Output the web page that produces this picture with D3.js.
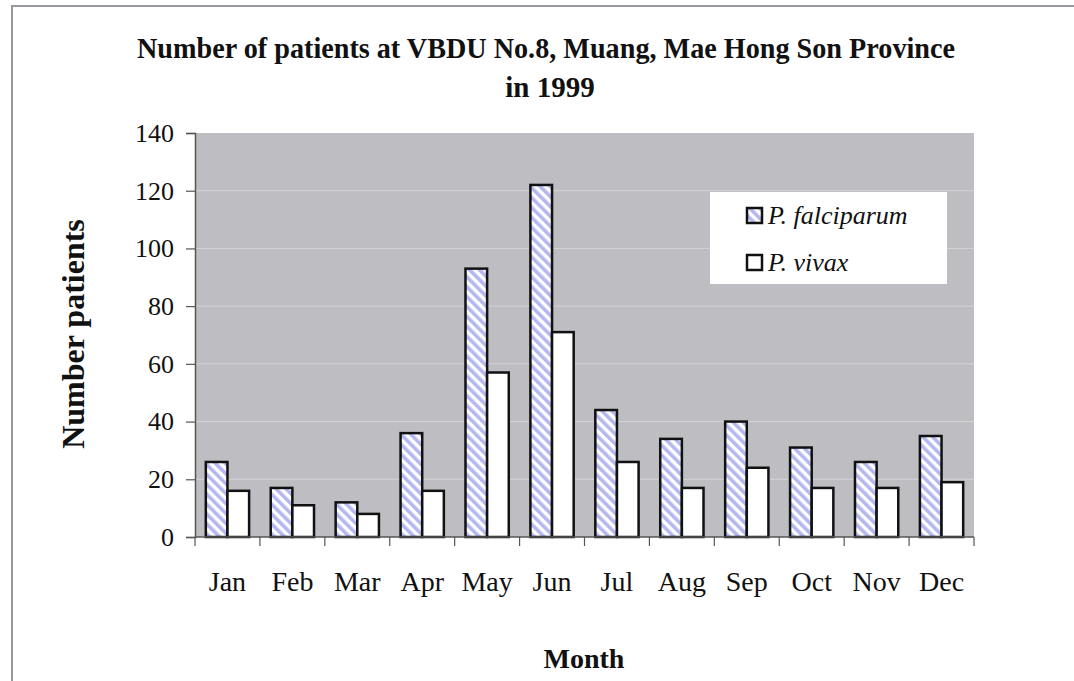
<!DOCTYPE html>
<html>
<head>
<meta charset="utf-8">
<script src="https://cdn.jsdelivr.net/npm/d3@7"></script>
<style>
  body { margin: 0; background: #fff; }
  text { font-family: "Liberation Serif", "Times New Roman", serif; fill: #111; }
</style>
</head>
<body>
<script>
var W = 1074, H = 681;

var months = ["Jan","Feb","Mar","Apr","May","Jun","Jul","Aug","Sep","Oct","Nov","Dec"];
var falciparum = [26, 17, 12, 36, 93, 122, 44, 34, 40, 31, 26, 35];
var vivax = [16, 11, 8, 16, 57, 71, 26, 17, 24, 17, 17, 19];
var seriesNames = ["P. falciparum", "P. vivax"];
var yTicks = [0, 20, 40, 60, 80, 100, 120, 140];

var plot = {left: 195, right: 974, top: 133, bottom: 537};

var svg = d3.select("body").append("svg")
  .attr("width", W)
  .attr("height", H);

// hatch fill for falciparum
var defs = svg.append("defs");
var pat = defs.append("pattern")
  .attr("id", "hatch")
  .attr("patternUnits", "userSpaceOnUse")
  .attr("width", 7)
  .attr("height", 7)
  .attr("patternTransform", "rotate(-45)");
pat.append("rect").attr("width", 7).attr("height", 7).attr("fill", "#fff");
pat.append("rect").attr("width", 3.6).attr("height", 7).attr("fill", "#b3b8ee");

// page frame
svg.append("rect")
  .attr("x", 12).attr("y", 6)
  .attr("width", W).attr("height", H)
  .attr("fill", "none")
  .attr("stroke", "#9a97a0")
  .attr("stroke-width", 2);

var x = d3.scaleBand()
  .domain(months)
  .range([plot.left, plot.right]);

var x1 = d3.scaleBand()
  .domain(seriesNames)
  .range([x.bandwidth() / 6, x.bandwidth() * 5 / 6]);

var y = d3.scaleLinear()
  .domain([0, 140])
  .range([plot.bottom, plot.top]);

// plot area
svg.append("rect")
  .attr("x", plot.left).attr("y", plot.top)
  .attr("width", plot.right - plot.left)
  .attr("height", plot.bottom - plot.top)
  .attr("fill", "#bebdc1");

// gridlines
svg.append("g")
  .selectAll("line")
  .data(yTicks.slice(1, -1))
  .enter().append("line")
  .attr("x1", plot.left).attr("x2", plot.right)
  .attr("y1", d => y(d)).attr("y2", d => y(d))
  .attr("stroke", "#d4d3d8")
  .attr("stroke-width", 1);

// bars
var rows = months.map((m, i) => ({month: m, values: [
  {key: seriesNames[0], value: falciparum[i]},
  {key: seriesNames[1], value: vivax[i]}
]}));

var groups = svg.append("g")
  .selectAll("g")
  .data(rows)
  .enter().append("g")
  .attr("transform", d => "translate(" + x(d.month) + ",0)");

groups.selectAll("rect")
  .data(d => d.values)
  .enter().append("rect")
  .attr("x", d => x1(d.key))
  .attr("y", d => y(d.value))
  .attr("width", x1.bandwidth())
  .attr("height", d => y(0) - y(d.value))
  .attr("fill", d => d.key === seriesNames[0] ? "url(#hatch)" : "#fff")
  .attr("stroke", "#111")
  .attr("stroke-width", 2.5);

// y axis
var yAxis = svg.append("g")
  .attr("transform", "translate(" + plot.left + ",0)")
  .call(d3.axisLeft(y).tickValues(yTicks).tickSize(9).tickPadding(12));
yAxis.select(".domain").attr("stroke", "#555").attr("stroke-width", 1.5);
yAxis.selectAll(".tick line").attr("stroke", "#555").attr("stroke-width", 1.2);
yAxis.selectAll("text")
  .style("font-family", "'Liberation Serif', serif")
  .style("font-size", "26px")
  .attr("fill", "#111");

// x axis baseline + ticks at category boundaries
var xg = svg.append("g");
xg.append("line")
  .attr("x1", plot.left).attr("x2", plot.right)
  .attr("y1", plot.bottom).attr("y2", plot.bottom)
  .attr("stroke", "#555").attr("stroke-width", 1.5);
xg.selectAll(".xtick")
  .data(months.concat(["end"]))
  .enter().append("line")
  .attr("class", "xtick")
  .attr("x1", (d, i) => i < months.length ? x(d) : plot.right)
  .attr("x2", (d, i) => i < months.length ? x(d) : plot.right)
  .attr("y1", plot.bottom).attr("y2", plot.bottom + 9)
  .attr("stroke", "#555").attr("stroke-width", 1.2);
xg.selectAll(".xlabel")
  .data(months)
  .enter().append("text")
  .attr("class", "xlabel")
  .attr("x", d => x(d) + x.bandwidth() / 2)
  .attr("y", 591)
  .attr("text-anchor", "middle")
  .style("font-size", "28px")
  .text(d => d);

// titles
svg.append("text")
  .attr("x", 546).attr("y", 58)
  .attr("text-anchor", "middle")
  .attr("textLength", 818)
  .attr("lengthAdjust", "spacingAndGlyphs")
  .style("font-size", "29px").style("font-weight", "bold")
  .text("Number of patients at VBDU No.8, Muang, Mae Hong Son Province");
svg.append("text")
  .attr("x", 550).attr("y", 97)
  .attr("text-anchor", "middle")
  .style("font-size", "29px").style("font-weight", "bold")
  .text("in 1999");

svg.append("text")
  .attr("transform", "translate(84,334) rotate(-90)")
  .attr("text-anchor", "middle")
  .style("font-size", "32px").style("font-weight", "bold")
  .text("Number patients");

svg.append("text")
  .attr("x", 584).attr("y", 668)
  .attr("text-anchor", "middle")
  .style("font-size", "28px").style("font-weight", "bold")
  .text("Month");

// legend
var legend = svg.append("g");
legend.append("rect")
  .attr("x", 710).attr("y", 192)
  .attr("width", 237).attr("height", 92)
  .attr("fill", "#fff");
var li = legend.selectAll(".item")
  .data(seriesNames)
  .enter().append("g")
  .attr("class", "item")
  .attr("transform", (d, i) => "translate(747," + (208 + i * 47) + ")");
li.append("rect")
  .attr("width", 15).attr("height", 15)
  .attr("fill", (d, i) => i === 0 ? "url(#hatch)" : "#fff")
  .attr("stroke", "#111").attr("stroke-width", 2.5);
li.append("text")
  .attr("x", 21).attr("y", 16)
  .style("font-size", "26px").style("font-style", "italic")
  .text(d => d);
</script>
</body>
</html>
